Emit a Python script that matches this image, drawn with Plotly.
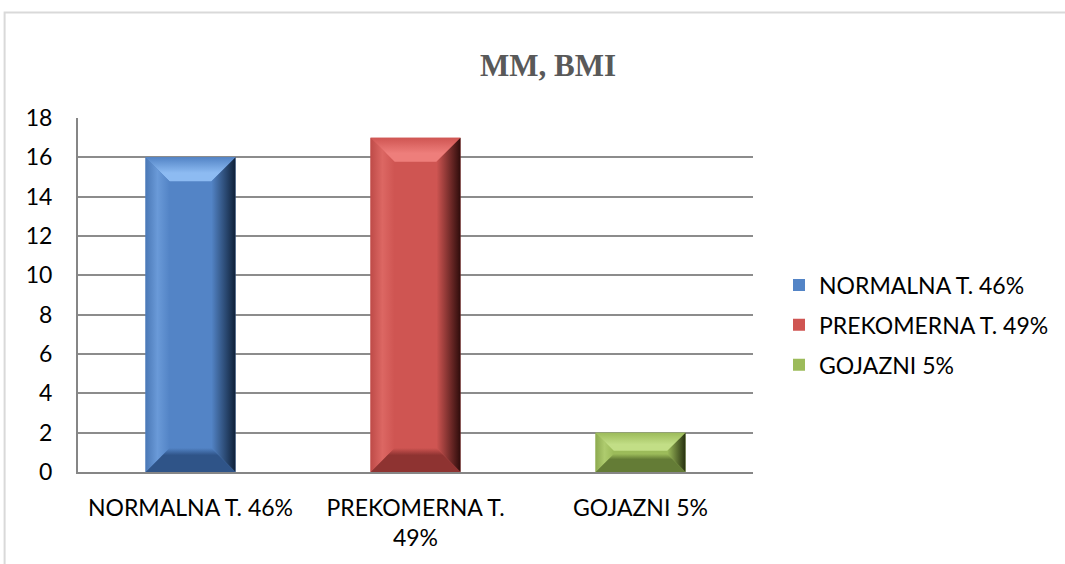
import plotly.graph_objects as go

# Chart data
categories = ["NORMALNA T. 46%", "PREKOMERNA T. 49%", "GOJAZNI 5%"]
tick_labels = ["NORMALNA T. 46%", "PREKOMERNA T.<br>49%", "GOJAZNI 5%"]
counts = [16, 17, 2]
y_ticks = [0, 2, 4, 6, 8, 10, 12, 14, 16, 18]

# Colour sets per bar: face, light bevel, dark bevel, shadow edge, side tones
face_colors = ["#5384C6", "#CF5552", "#9CBB5A"]
light_colors = ["#8DBBF2", "#EE7E7B", "#C2DE86"]
dark_colors = ["#2F5488", "#8E3331", "#647C36"]
edge_colors = ["#0E2038", "#2E0C0B", "#26300F"]
side_outer = ["#4A78B6", "#BE4B48", "#8DAA50"]
side_light = ["#6A9AD8", "#DC6763", "#AECB6E"]

W, H = 1065, 564
L, R, T, B = 78, 311, 118, 92
plot_w = W - L - R
plot_h = H - T - B
x_range = [-0.5, 2.5]
y_range = [0, 18]
px_x = plot_w / (x_range[1] - x_range[0])
px_y = plot_h / (y_range[1] - y_range[0])
bar_w = 0.4
half = bar_w / 2

fig = go.Figure()

for i, (name, v) in enumerate(zip(categories, counts)):
    fig.add_trace(go.Bar(
        x=[i], y=[v], width=bar_w, name=name, legendgroup=name,
        marker=dict(color=face_colors[i], line=dict(width=0)),
        hoverinfo="skip",
    ))

# Bevel facets, sized in screen pixels and converted to axis units
for i, v in enumerate(counts):
    bevel_px = min(24.0, v * px_y * 0.46)
    by = bevel_px / px_y
    bx = bevel_px / px_x
    c = i
    xl, xr = c - half, c + half
    facets = [
        # top
        ([xl, xr, xr - bx, xl + bx, xl], [v, v, v - by, v - by, v],
         dict(type="vertical", colorscale=[[0, light_colors[i]], [0.35, light_colors[i]], [1, face_colors[i]]],
              start=v - by, stop=v)),
        # bottom
        ([xl, xr, xr - bx, xl + bx, xl], [0, 0, by, by, 0],
         dict(type="vertical", colorscale=[[0, dark_colors[i]], [0.7, dark_colors[i]], [1, face_colors[i]]],
              start=0, stop=by)),
        # left
        ([xl, xl + bx, xl + bx, xl, xl], [0, by, v - by, v, 0],
         dict(type="horizontal", colorscale=[[0, side_outer[i]], [0.5, side_light[i]], [1, face_colors[i]]],
              start=xl, stop=xl + bx)),
        # right
        ([xr, xr, xr - bx, xr - bx, xr], [0, v, v - by, by, 0],
         dict(type="horizontal", colorscale=[[0, face_colors[i]], [1, edge_colors[i]]],
              start=xr - bx, stop=xr)),
    ]
    for xs, ys, grad in facets:
        fig.add_trace(go.Scatter(
            x=xs, y=ys, mode="lines", fill="toself",
            line=dict(width=0), fillcolor=face_colors[i],
            fillgradient=grad, showlegend=False, hoverinfo="skip",
        ))

label_font = dict(family="Lato, 'Open Sans', sans-serif", size=23, color="#000000")

fig.update_layout(
    width=W, height=H,
    margin=dict(l=L, r=R, t=T, b=B, pad=0),
    paper_bgcolor="white", plot_bgcolor="white",
    bargap=0.6,
    title=dict(text="<b>MM, BMI</b>", x=548 / W, xanchor="center",
               y=1 - 65 / H, yanchor="middle",
               font=dict(family="Liberation Serif, 'DejaVu Serif', serif", size=31, color="#595959")),
    xaxis=dict(range=x_range, tickmode="array", tickvals=[0, 1, 2], ticktext=tick_labels,
               showgrid=False, zeroline=False, showline=True, linecolor="#868686", linewidth=2,
               ticks="", tickfont=label_font, ticklabelstandoff=14, fixedrange=True),
    yaxis=dict(range=y_range, tickmode="array", tickvals=y_ticks,
               showgrid=True, gridcolor="#8C8C8C", gridwidth=2, zeroline=False,
               showline=True, linecolor="#868686", linewidth=2, ticks="",
               tickfont=label_font, ticklabelstandoff=19, fixedrange=True),
    legend=dict(x=(779 - L) / plot_w, xanchor="left", y=(H - B - 325) / plot_h, yanchor="middle",
                font=dict(family="Lato, 'Open Sans', sans-serif", size=23, color="#000000"),
                tracegroupgap=7, itemwidth=30, bgcolor="rgba(0,0,0,0)"),
    shapes=[dict(type="rect", xref="paper", yref="paper",
                 x0=(4.5 - L) / plot_w, x1=(W + 40 - L) / plot_w,
                 y0=(H - B - (H + 40)) / plot_h, y1=(H - B - 12.5) / plot_h,
                 line=dict(color="#D9D9D9", width=2), fillcolor="rgba(0,0,0,0)", layer="below")],
)

fig.write_html("out.html")
